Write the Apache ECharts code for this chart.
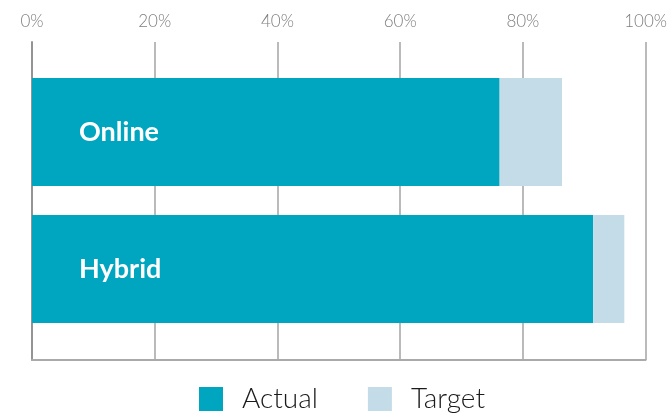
<!DOCTYPE html>
<html>
<head>
<meta charset="utf-8">
<script src="https://cdn.jsdelivr.net/npm/echarts@6/dist/echarts.min.js"></script>
<style>html,body{margin:0;padding:0;background:#fff}#c{width:670px;height:413px}</style>
</head>
<body>
<div id="c"></div>
<script>
const categories = ['Online', 'Hybrid'];
const actual = [75, 90];
const targetRemainder = [10, 5];
const seriesNames = ['Actual', 'Target'];
const tickValues = [0, 20, 40, 60, 80, 100];

const chart = echarts.init(document.getElementById('c'), null, {renderer: 'canvas'});
const gridColor = '#a3a3a3';
chart.setOption({
  animation: false,
  textStyle: {fontFamily: 'Lato'},
  grid: [
    {left: 32, right: 14.5, top: 42, bottom: 53},
    {left: 32, right: 14.5, top: 63.5, bottom: 75.5}
  ],
  xAxis: [
    {gridIndex: 0, type: 'value', position: 'top', min: tickValues[0], max: tickValues[tickValues.length-1], interval: 20,
     axisLine: {show: false}, axisTick: {show: false},
     axisLabel: {formatter: '{value}%', color: '#7e7e7e', fontSize: 17, fontWeight: 300, margin: 12},
     splitLine: {show: true, lineStyle: {color: gridColor, width: 1.5}}},
    {gridIndex: 0, type: 'value', position: 'bottom', min: 0, max: 100,
     axisLine: {show: true, onZero: false, lineStyle: {color: '#aaaaaa', width: 2}}, axisTick: {show: false},
     axisLabel: {show: false}, splitLine: {show: false}},
    {gridIndex: 1, type: 'value', min: 0, max: 100, show: false}
  ],
  yAxis: [
    {gridIndex: 0, type: 'value', min: 0, max: 1, axisLine: {show: true, lineStyle: {color: '#949494', width: 2}},
     axisTick: {show: false}, axisLabel: {show: false}, splitLine: {show: false}},
    {gridIndex: 1, type: 'category', data: categories, inverse: true, show: false}
  ],
  legend: {
    data: seriesNames, left: 199, top: 385, padding: 0, itemWidth: 24, itemHeight: 24, itemGap: 50, icon: 'rect',
    textStyle: {fontSize: 28, fontWeight: 300, color: '#1a1a1a', fontFamily: 'Lato', padding: [0, 0, 0, 14], lineHeight: 24}
  },
  series: [
    {name: seriesNames[0], type: 'bar', stack: 'a', xAxisIndex: 2, yAxisIndex: 1, data: actual, barWidth: 108,
     itemStyle: {color: '#00A5BF'},
     label: {show: true, position: 'insideLeft', distance: 47, formatter: '{b}', color: '#fff', fontSize: 27, fontWeight: 'bold', fontFamily: 'Lato'}},
    {name: seriesNames[1], type: 'bar', stack: 'a', xAxisIndex: 2, yAxisIndex: 1, data: targetRemainder, barWidth: 108,
     itemStyle: {color: '#C3DCE7'}}
  ]
});
</script>
</body>
</html>
